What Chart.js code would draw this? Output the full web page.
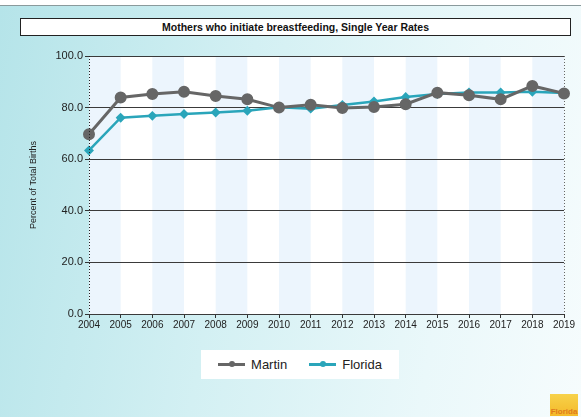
<!DOCTYPE html>
<html>
<head>
<meta charset="utf-8">
<script src="https://cdn.jsdelivr.net/npm/chart.js@4/dist/chart.umd.min.js"></script>
<style>
  html, body { margin: 0; padding: 0; background: #fff; }
  #frame {
    position: absolute; left: 0; top: 5px; width: 581px; height: 412px;
    border-top: 1px solid #8a9a9c;
    background: linear-gradient(100deg, #b5e4e9 0%, #d3f0f3 40%, #eaf8fa 75%, #f6fcfd 100%);
    overflow: hidden;
  }
  #title {
    position: absolute; left: 20px; top: 12px; width: 549px; height: 16px;
    background: #fff; border: 1px solid #222;
    font: bold 10.5px "Liberation Sans", Arial, sans-serif; color: #111;
    text-align: center; line-height: 16px;
  }
  #chart { position: absolute; left: 0; top: -6px; }
  #legend {
    position: absolute; left: 201px; top: 344px; width: 198px; height: 29px;
    background: #fff; font: 13px "Liberation Sans", Arial, sans-serif; color: #222;
    display: flex; align-items: center; justify-content: center; gap: 22px;
  }
  .item { display: flex; align-items: center; gap: 6px; }
  .mark { position: relative; width: 27px; height: 3px; }
  .mark i { position: absolute; left: 11px; top: -2px; width: 6px; height: 6px; border-radius: 50%; }
  #logo {
    position: absolute; left: 550px; top: 388px; width: 28px; height: 22px;
    background: linear-gradient(#f7d24a, #f4b92a);
    font: bold 8px "Liberation Sans", Arial, sans-serif; color: #e07a1c;
    text-align: center; line-height: 36px; overflow: hidden;
  }
</style>
</head>
<body>
<div id="frame">
  <div id="title">Mothers who initiate breastfeeding, Single Year Rates</div>
  <canvas id="chart" width="581" height="417"></canvas>
  <div id="legend">
    <div class="item"><div class="mark" style="background:#666"><i style="background:#666"></i></div>Martin</div>
    <div class="item"><div class="mark" style="background:#2aa5ba"><i style="background:#2aa5ba"></i></div>Florida</div>
  </div>
  <div id="logo">Florida</div>
</div>
<script>
const years = ["2004", "2005", "2006", "2007", "2008", "2009", "2010", "2011",
  "2012", "2013", "2014", "2015", "2016", "2017", "2018", "2019"];
const martin = [69.7, 83.9, 85.3, 86.1, 84.5, 83.2, 80.0, 81.1,
  79.8, 80.2, 81.3, 85.8, 84.8, 83.2, 88.4, 85.5];
const florida = [63.4, 76.1, 76.8, 77.5, 78.1, 78.8, 80.1, 79.6,
  81.0, 82.4, 84.1, 85.3, 85.9, 85.9, 86.1, 85.7];

// alternating light blue / white column bands, plus dotted left/right edges
const bands = {
  id: "bands",
  beforeDraw(chart) {
    const { ctx, chartArea: a, scales: { x } } = chart;
    ctx.save();
    ctx.fillStyle = "#fff";
    ctx.fillRect(a.left, a.top, a.right - a.left, a.bottom - a.top);
    ctx.fillStyle = "#ecf5fd";
    for (let i = 0; i < years.length - 1; i += 2) {
      const x0 = x.getPixelForValue(i), x1 = x.getPixelForValue(i + 1);
      ctx.fillRect(x0, a.top, x1 - x0, a.bottom - a.top);
    }
    ctx.restore();
  },
  afterDatasetsDraw(chart) {
    const { ctx, chartArea: a } = chart;
    ctx.save();
    ctx.setLineDash([1, 2]);
    ctx.strokeStyle = "#222";
    ctx.beginPath();
    ctx.moveTo(Math.round(a.left) + 0.5, a.top);
    ctx.lineTo(Math.round(a.left) + 0.5, a.bottom);
    ctx.stroke();
    ctx.strokeStyle = "#666";
    ctx.beginPath();
    ctx.moveTo(Math.round(a.right) + 0.5, a.top);
    ctx.lineTo(Math.round(a.right) + 0.5, a.bottom);
    ctx.stroke();
    ctx.restore();
  }
};

new Chart(document.getElementById("chart"), {
  type: "line",
  data: {
    labels: years,
    datasets: [
      {
        label: "Martin", data: martin,
        borderColor: "#666", backgroundColor: "#666",
        borderWidth: 3, pointRadius: 4.5, pointStyle: "circle"
      },
      {
        label: "Florida", data: florida,
        borderColor: "#2aa5ba", backgroundColor: "#2aa5ba",
        borderWidth: 2.5, pointRadius: 3.2, pointStyle: "rectRot"
      }
    ]
  },
  plugins: [bands],
  options: {
    responsive: false,
    animation: false,
    layout: { padding: { left: 28, top: 56, right: 17, bottom: 79 } },
    plugins: { legend: { display: false }, tooltip: { enabled: false } },
    scales: {
      x: {
        offset: false,
        afterFit: (s) => { s.height = 24; },
        grid: { display: true, drawOnChartArea: false, tickLength: 4, tickColor: "#333" },
        border: { display: false },
        ticks: { color: "#222", font: { family: "Liberation Sans", size: 10 }, maxRotation: 0, autoSkip: false, padding: 1 }
      },
      y: {
        min: 0, max: 100,
        afterFit: (s) => { s.width = 61; },
        grid: { color: "#3a3a3a", lineWidth: 1, tickLength: 4, tickColor: "#333" },
        border: { display: false },
        ticks: {
          stepSize: 20, color: "#222", padding: 2,
          font: { family: "Liberation Sans", size: 11 },
          callback: (v) => v.toFixed(1)
        },
        title: {
          display: true, text: "Percent of Total Births", color: "#222",
          font: { family: "Liberation Sans", size: 9 }, padding: { top: 0, bottom: 4 }
        }
      }
    }
  }
});
</script>
</body>
</html>
